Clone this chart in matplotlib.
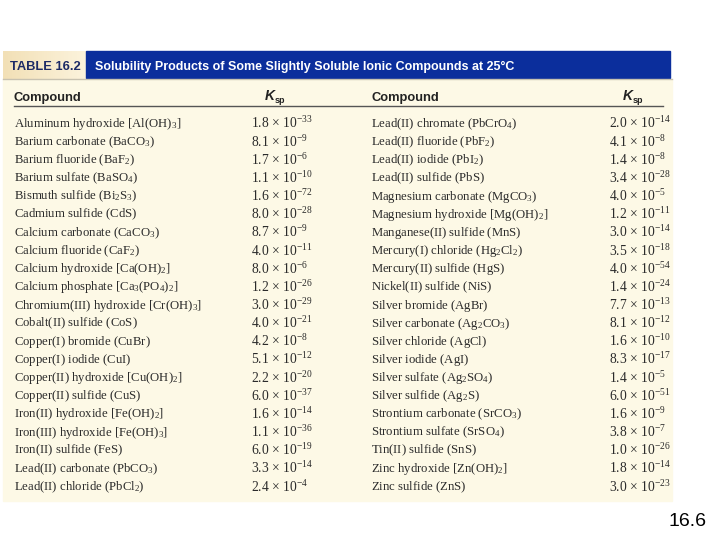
import numpy as np
import matplotlib
matplotlib.use("Agg")
import matplotlib.pyplot as plt
from matplotlib.patches import Rectangle

# Tabellendaten
left_compounds = [
    "Aluminum hydroxide [Al(OH)$_{3}$]",
    "Barium carbonate (BaCO$_{3}$)",
    "Barium fluoride (BaF$_{2}$)",
    "Barium sulfate (BaSO$_{4}$)",
    "Bismuth sulfide (Bi$_{2}$S$_{3}$)",
    "Cadmium sulfide (CdS)",
    "Calcium carbonate (CaCO$_{3}$)",
    "Calcium fluoride (CaF$_{2}$)",
    "Calcium hydroxide [Ca(OH)$_{2}$]",
    "Calcium phosphate [Ca$_{3}$(PO$_{4}$)$_{2}$]",
    "Chromium(III) hydroxide [Cr(OH)$_{3}$]",
    "Cobalt(II) sulfide (CoS)",
    "Copper(I) bromide (CuBr)",
    "Copper(I) iodide (CuI)",
    "Copper(II) hydroxide [Cu(OH)$_{2}$]",
    "Copper(II) sulfide (CuS)",
    "Iron(II) hydroxide [Fe(OH)$_{2}$]",
    "Iron(III) hydroxide [Fe(OH)$_{3}$]",
    "Iron(II) sulfide (FeS)",
    "Lead(II) carbonate (PbCO$_{3}$)",
    "Lead(II) chloride (PbCl$_{2}$)",
]
left_mant = [1.8, 8.1, 1.7, 1.1, 1.6, 8.0, 8.7, 4.0, 8.0, 1.2, 3.0,
             4.0, 4.2, 5.1, 2.2, 6.0, 1.6, 1.1, 6.0, 3.3, 2.4]
left_exp = [-33, -9, -6, -10, -72, -28, -9, -11, -6, -26, -29,
            -21, -8, -12, -20, -37, -14, -36, -19, -14, -4]

right_compounds = [
    "Lead(II) chromate (PbCrO$_{4}$)",
    "Lead(II) fluoride (PbF$_{2}$)",
    "Lead(II) iodide (PbI$_{2}$)",
    "Lead(II) sulfide (PbS)",
    "Magnesium carbonate (MgCO$_{3}$)",
    "Magnesium hydroxide [Mg(OH)$_{2}$]",
    "Manganese(II) sulfide (MnS)",
    "Mercury(I) chloride (Hg$_{2}$Cl$_{2}$)",
    "Mercury(II) sulfide (HgS)",
    "Nickel(II) sulfide (NiS)",
    "Silver bromide (AgBr)",
    "Silver carbonate (Ag$_{2}$CO$_{3}$)",
    "Silver chloride (AgCl)",
    "Silver iodide (AgI)",
    "Silver sulfate (Ag$_{2}$SO$_{4}$)",
    "Silver sulfide (Ag$_{2}$S)",
    "Strontium carbonate (SrCO$_{3}$)",
    "Strontium sulfate (SrSO$_{4}$)",
    "Tin(II) sulfide (SnS)",
    "Zinc hydroxide [Zn(OH)$_{2}$]",
    "Zinc sulfide (ZnS)",
]
right_mant = [2.0, 4.1, 1.4, 3.4, 4.0, 1.2, 3.0, 3.5, 4.0, 1.4, 7.7,
              8.1, 1.6, 8.3, 1.4, 6.0, 1.6, 3.8, 1.0, 1.8, 3.0]
right_exp = [-14, -8, -8, -28, -5, -11, -14, -18, -54, -24, -13,
             -12, -10, -17, -5, -51, -9, -7, -26, -14, -23]

table_label = "TABLE 16.2"
table_title = "Solubility Products of Some Slightly Soluble Ionic Compounds at 25\u00b0C"
slide_no = "16.6"

plt.rcParams['font.family'] = ['Liberation Serif', 'DejaVu Serif']
plt.rcParams['mathtext.fontset'] = 'custom'
plt.rcParams['mathtext.rm'] = 'Liberation Serif'
plt.rcParams['mathtext.it'] = 'Liberation Serif:italic'
plt.rcParams['mathtext.bf'] = 'Liberation Serif:bold'


def als_mathtext(s):
    # alle Zeilen durch mathtext schicken, damit die Grundlinien gleich liegen
    if '$' in s:
        return s
    return s[:-1] + '$' + s[-1] + '$'


fig = plt.figure(figsize=(7.2, 5.4), dpi=100)
ax = fig.add_axes([0, 0, 1, 1])
ax.set_xlim(0, 720)
ax.set_ylim(540, 0)
ax.axis('off')

# Hintergrund der Tabelle
ax.add_patch(Rectangle((3, 79), 669, 422, color='#fdf9e6', zorder=0))
# Kasten "TABLE 16.2" mit leichtem Verlauf
grad = np.linspace(0, 1, 100).reshape(1, -1)
ax.imshow(grad, extent=(3, 86, 79, 51), cmap=matplotlib.colors.LinearSegmentedColormap.from_list(
    'tab', ['#f2e0b6', '#fcf3dc']), aspect='auto', zorder=1)
ax.add_patch(Rectangle((86, 51), 584, 27, color='#0b2e9c', zorder=1))
ax.plot([3, 672], [79, 79], color='#c8c2b0', lw=1, zorder=2)

ax.text(10, 70, table_label, fontsize=9.3, fontweight='bold', color='#1c2a66',
        family='Liberation Sans', va='baseline', ha='left')
ax.text(95, 70, table_title, fontsize=9, fontweight='bold', color='white',
        family='Liberation Sans', va='baseline', ha='left')

# Kopfzeile
for xc, xk in [(14, 265), (371, 623)]:
    ax.text(xc, 100.5, "Compound", fontsize=9.3, fontweight='bold', color='#222222',
            family='Liberation Sans', va='baseline', ha='left')
    ax.text(xk, 100.5, "K", fontsize=10, fontweight='bold', style='italic',
            color='#222222', family='Liberation Sans', va='baseline', ha='left')
    ax.text(xk + 10, 103, "sp", fontsize=6.5, fontweight='bold', color='#222222',
            family='Liberation Sans', va='baseline', ha='left')
ax.plot([14, 663], [106, 106], color='#555555', lw=1.0)

# Zeilen
y0, dy = 127.5, 18.15
txt_color = '#2b2b2b'
for names, mant, exps, xc, xk in [(left_compounds, left_mant, left_exp, 14, 251),
                                  (right_compounds, right_mant, right_exp, 371, 609)]:
    for i, (n, m, e) in enumerate(zip(names, mant, exps)):
        y = y0 + i * dy
        ax.text(xc, y - 0.5, als_mathtext(n), fontsize=9.2, color=txt_color,
                va='baseline', ha='left')
        ax.text(xk, y + 1, "%.1f \u00d7 10$^{%d}$" % (m, e), fontsize=9.8,
                color=txt_color, va='baseline', ha='left')

ax.text(707, 522, slide_no, fontsize=14, color='black', family='Liberation Sans',
        va='center', ha='right')

fig.savefig('out.png', dpi=100)
